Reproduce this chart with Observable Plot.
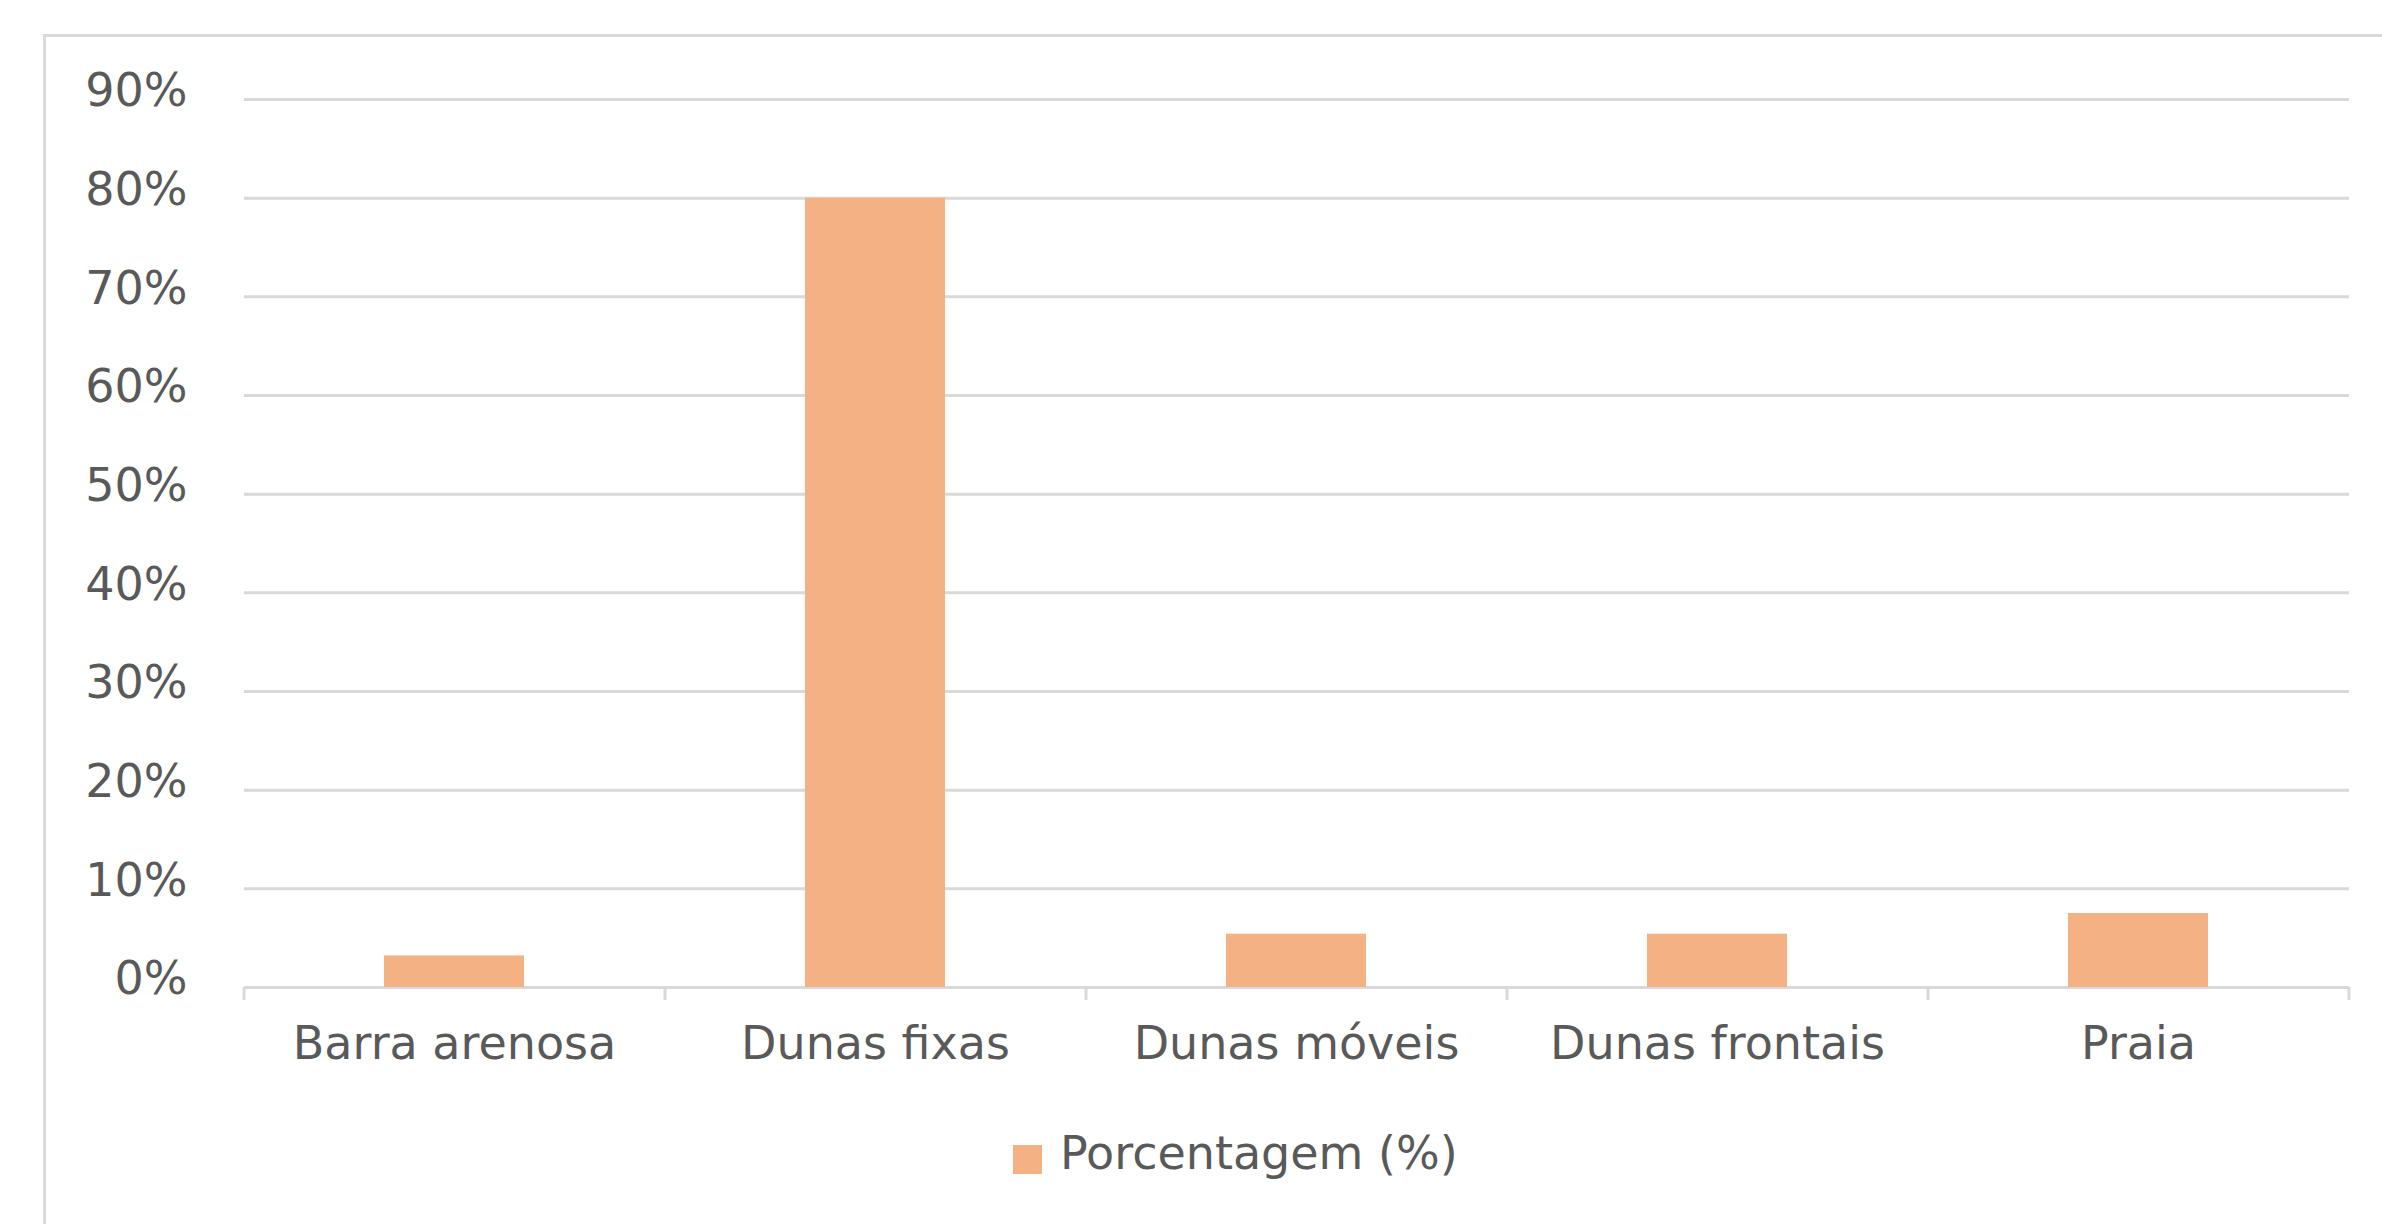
<!DOCTYPE html>
<html>
<head>
<meta charset="utf-8">
<script src="https://cdn.jsdelivr.net/npm/d3@7"></script>
<script src="https://cdn.jsdelivr.net/npm/@observablehq/plot@0.6"></script>
<style>
  html, body { margin: 0; padding: 0; background: #fff; width: 2382px; height: 1224px; overflow: hidden; }
  #frame { position: absolute; left: 43px; top: 34px; width: 2400px; height: 1250px;
           border-left: 3px solid #d9d9d9; border-top: 3px solid #d9d9d9; }
  #chart { position: absolute; left: 0; top: 0; }
  #legend { position: absolute; left: 1013px; top: 1136px; display: flex; align-items: center;
            font-family: "DejaVu Sans", sans-serif; font-size: 46px; color: #595959; }
  #legend .sw { width: 29px; height: 29px; background: #f4b183; margin-right: 18px; }
  #legend span { line-height: 1; position: relative; top: -6px; }
</style>
</head>
<body>
<div id="frame"><div id="chart"></div></div>
<div id="legend"><div class="sw"></div><span id="legendLabel"></span></div>
<script>
const categories = ["Barra arenosa", "Dunas fixas", "Dunas móveis", "Dunas frontais", "Praia"];
const values = [3.2, 80, 5.4, 5.4, 7.5];
const yTicks = [0, 10, 20, 30, 40, 50, 60, 70, 80, 90];
const seriesName = "Porcentagem (%)";
const barColor = "#f4b183";

const data = categories.map((c, i) => ({cat: c, value: values[i]}));

const width = 2336, height = 1100;
const marginLeft = 198, marginRight = 33, marginTop = 62, marginBottom = 150;
const step = (width - marginLeft - marginRight) / categories.length;
const font = "DejaVu Sans, sans-serif";
const textColor = "#595959";

const plot = Plot.plot({
  width, height, marginLeft, marginRight, marginTop, marginBottom,
  style: {fontFamily: font, background: "transparent", overflow: "visible"},
  x: {type: "band", domain: categories, paddingInner: 2/3, paddingOuter: 1/3, align: 0.5, label: null},
  y: {domain: [0, 90], label: null},
  marks: [
    Plot.gridY(yTicks, {stroke: "#d9d9d9", strokeOpacity: 1, strokeWidth: 3}),
    Plot.ruleX(categories, {x: d => d, y1: 0, y2: 0, dx: -step / 2, insetBottom: -13, stroke: "#d9d9d9", strokeWidth: 3}),
    Plot.ruleX(categories.slice(-1), {x: d => d, y1: 0, y2: 0, dx: step / 2, insetBottom: -13, stroke: "#d9d9d9", strokeWidth: 3}),
    Plot.barY(data, {x: "cat", y: "value", fill: barColor}),
    Plot.axisY(yTicks, {tickSize: 0, tickPadding: 57, fontSize: 46, fill: textColor, dy: -8,
      tickFormat: d => d + "%"}),
    Plot.axisX({tickSize: 0, tickPadding: 39, fontSize: 46, fill: textColor})
  ]
});
document.getElementById("chart").appendChild(plot);
document.getElementById("legendLabel").textContent = seriesName;
document.querySelector("#legend .sw").style.background = barColor;
</script>
</body>
</html>
